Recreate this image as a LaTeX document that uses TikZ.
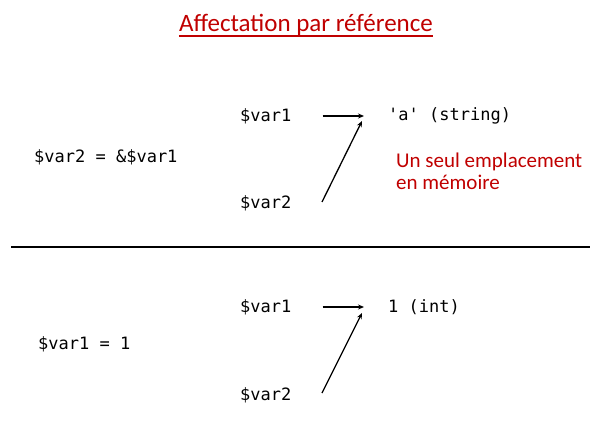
\documentclass[tikz,border=0pt]{standalone}
\usepackage{fontspec}
\setmainfont{Carlito}
\newfontfamily\codefont{DejaVu Sans Mono}
\usetikzlibrary{arrows.meta}
\definecolor{darkred}{RGB}{192,0,0}
\begin{document}
\begin{tikzpicture}[x=1pt,y=-1pt,
  code/.style={font=\codefont\fontsize{17}{20}\selectfont, inner sep=0pt, anchor=west},
  note/.style={font=\fontsize{21}{22}\selectfont, text=darkred, inner sep=0pt, anchor=west, align=left},
  ptr/.style={line width=1.3pt, -{Stealth[length=6pt,width=5pt]}}]
\useasboundingbox (0,0) rectangle (600,425);
\node[font=\fontsize{25}{28}\selectfont, text=darkred, inner sep=0pt, anchor=base] (title) at (306,32) {Affectation par référence};
\draw[darkred, line width=1.6pt] ([yshift=-4pt]title.base west) -- ([yshift=-4pt]title.base east);
% top part
\node[code] (a1) at (240,116) {\$var1};
\node[code] (a2) at (240,203) {\$var2};
\node[code] (aval) at (388,116) {'a' (string)};
\node[code] (aexpr) at (34,157) {\$var2 = \&\$var1};
\node[note] (anote) at (396,171) {Un seul emplacement\\en mémoire};
\coordinate (as2) at (322,202);
\coordinate (at2) at (362,121);
\draw[ptr, shorten <=31pt, shorten >=24pt] (a1) -- (aval);
\draw[ptr] (as2) -- (at2);
% separator
\coordinate (l1) at (11,247);
\coordinate (l2) at (590,247);
\draw[line width=1.3pt] (l1) -- (l2);
% bottom part
\node[code] (b1) at (240,307) {\$var1};
\node[code] (b2) at (240,395) {\$var2};
\node[code] (bval) at (388,307) {1 (int)};
\node[code] (bexpr) at (38,344) {\$var1 = 1};
\coordinate (bs2) at (322,393);
\coordinate (bt2) at (362,313);
\draw[ptr, shorten <=31pt, shorten >=24pt] (b1) -- (bval);
\draw[ptr] (bs2) -- (bt2);
\end{tikzpicture}
\end{document}
